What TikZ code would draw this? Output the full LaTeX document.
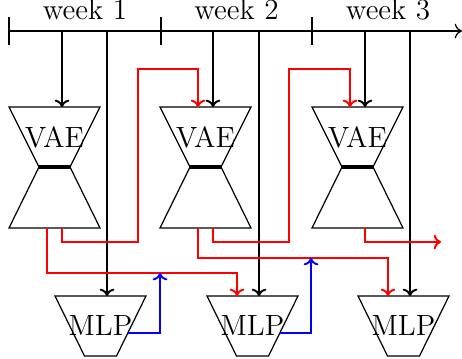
\documentclass[tikz,border=0pt]{standalone}
\usetikzlibrary{arrows.meta}
\begin{document}
\begin{tikzpicture}[x=0.41pt,y=-0.41pt,
  flow/.style={thick,-{To[length=3pt,width=6pt]}},
  redflow/.style={flow,red},
  blueflow/.style={flow,blue},
  shapeline/.style={draw,line width=0.5pt},
  lbl/.style={inner sep=0pt,font=\large}]
\useasboundingbox (0,0) rectangle (462,358);
% timeline
\coordinate (t0) at (9,31);
\coordinate (tend) at (462,31);
\draw[line width=0.5pt,-{To[length=3pt,width=6pt]}] (t0) -- (tend);
\foreach \x in {9,161,312} \draw[thick] (\x,17) -- (\x,45);
\node[anchor=base] (w1) at (85,20) {\large week 1};
\node[anchor=base] (w2) at (236.5,20) {\large week 2};
\node[anchor=base] (w3) at (388,20) {\large week 3};
% VAEs
\foreach \i/\c in {1/54.5,2/205.5,3/357.5}{
  \draw[shapeline] (\c-45.5,107) -- (\c+45.5,107) -- (\c+15.5,167) -- (\c-15.5,167) -- cycle;
  \draw[shapeline] (\c-15.5,167) -- (\c+15.5,167) -- (\c+45.5,228) -- (\c-45.5,228) -- cycle;
  \draw[line width=1.4pt] (\c-15.5,167) -- (\c+15.5,167);
  \node[lbl] (vae\i) at (\c,137) {VAE};
  \coordinate (vaein\i) at (\c+7.5,107);
  \coordinate (vaerin\i) at (\c-7.5,107);
  \coordinate (vaea\i) at (\c+7.5,228);
  \coordinate (vaeb\i) at (\c-7.5,228);
  \coordinate (tl\i) at (\c+7.5,31);
}
% MLPs
\foreach \i/\c in {1/100.5,2/252.5,3/403.5}{
  \draw[shapeline] (\c-45.5,296) -- (\c+45.5,296) -- (\c+16,356) -- (\c-16,356) -- cycle;
  \node[lbl] (mlp\i) at (\c,326) {MLP};
  \coordinate (mlpin\i) at (\c+6.5,296);
  \coordinate (mlprin\i) at (\c-15.5,296);
  \coordinate (mlpout\i) at (\c+27,333);
  \coordinate (tm\i) at (\c+6.5,31);
}
% black arrows
\foreach \i in {1,2,3}{
  \draw[flow] (tl\i) -- (vaein\i);
  \draw[flow] (tm\i) -- (mlpin\i);
}
% red connectors
\draw[redflow] (vaea1) |- (138,242) |- (198,69) -- (vaerin2);
\draw[redflow] (vaeb1) |- (237,273) -- (mlprin2);
\draw[redflow] (vaea2) |- (289,242) |- (350,69) -- (vaerin3);
\draw[redflow] (vaeb2) |- (388,258) -- (mlprin3);
\coordinate (rend) at (441,242);
\draw[redflow] (vaea3) |- (rend);
% blue connectors
\coordinate (b1) at (160,273);
\coordinate (b2) at (311,258);
\draw[blueflow] (mlpout1) -| (b1);
\draw[blueflow] (mlpout2) -| (b2);
\end{tikzpicture}
\end{document}
